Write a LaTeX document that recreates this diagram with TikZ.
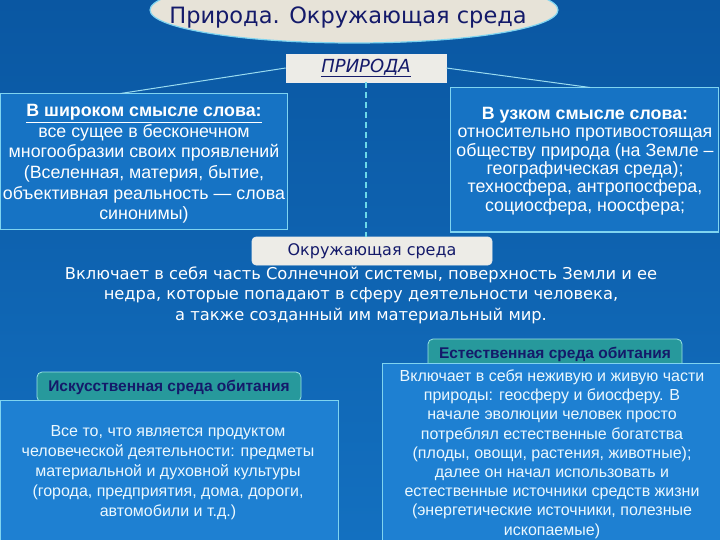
\documentclass[tikz,border=0pt]{standalone}
\usepackage{fontspec}
\setmainfont{Liberation Sans}
\newfontfamily\comicf{DejaVu Sans}
\usetikzlibrary{shapes.geometric,calc}
\definecolor{bgtop}{HTML}{0A57A2}
\definecolor{bgbot}{HTML}{1370C0}
\definecolor{boxblue}{HTML}{1673C4}
\definecolor{lowblue}{HTML}{1E80D2}
\definecolor{edgecyan}{HTML}{7FD4F0}
\definecolor{tabteal}{HTML}{27999C}
\definecolor{tabedge}{HTML}{9AE4E4}
\definecolor{navy}{HTML}{141A6A}
\definecolor{cream}{HTML}{E7E3D8}
\definecolor{paper}{HTML}{EDECE7}
\definecolor{linecyan}{HTML}{9ADCF0}
\definecolor{dashcyan}{HTML}{6CD8E8}
\tikzset{
  upbox/.style={draw=edgecyan,line width=1pt,fill=boxblue,rectangle,inner sep=0pt},
  lowbox/.style={draw=edgecyan,line width=1pt,fill=lowblue,rectangle,inner sep=0pt},
  tabbox/.style={draw=tabedge,line width=0.8pt,fill=tabteal,rectangle,rounded corners=5pt,inner sep=0pt,
    text=navy,font=\fontsize{15.5}{18}\selectfont\bfseries},
  lightbox/.style={draw=white!85!gray,line width=0.6pt,fill=paper,rectangle,inner sep=0pt,text=navy},
  bodytxt/.style={text=white,align=center,inner sep=0pt},
  conn/.style={draw=linecyan,line width=1pt},
  dashconn/.style={draw=dashcyan,line width=1.6pt,dash pattern=on 6pt off 4pt}
}
\begin{document}
\begin{tikzpicture}[x=1pt,y=-1pt]
\useasboundingbox (0,0) rectangle (720,540);
\clip (0,0) rectangle (720,540);
\shade[top color=bgtop,bottom color=bgbot] (0,0) rectangle (720,540);

% title ellipse
\node[ellipse,draw=edgecyan,line width=1.2pt,fill=cream,minimum width=408pt,minimum height=66pt,inner sep=0pt] (T) at (354,10) {};
\node[text=navy,font=\comicf\fontsize{22.5}{26}\selectfont,inner sep=0pt] (Tt) at (348,17) {Природа. Окружающая среда};

% PRIRODA box
\node[lightbox,minimum width=160pt,minimum height=28pt,font=\comicf\fontsize{18}{20}\selectfont] (P) at (366,68) {\underline{\textit{ПРИРОДА}}};

% upper boxes
\node[upbox,minimum width=287pt,minimum height=136pt] (L) at (143.5,162) {};
\node[bodytxt,font=\fontsize{17.8}{20.6}\selectfont] (Lt) at (144,164) {\underline{\textbf{В широком смысле слова:}}\\все сущее в бесконечном\\многообразии своих проявлений\\(Вселенная, материя, бытие,\\объективная реальность — слова\\синонимы)};

\node[upbox,minimum width=268pt,minimum height=144pt] (R) at (584,160) {};
\node[bodytxt,font=\fontsize{17.8}{18.3}\selectfont] (Rt) at (585,161) {\textbf{В узком смысле слова:}\\относительно противостоящая\\обществу природа (на Земле –\\географическая среда);\\техносфера, антропосфера,\\социосфера, ноосфера;};

% Okruzhayushchaya sreda box
\node[lightbox,rounded corners=4pt,minimum width=240pt,minimum height=28pt,font=\comicf\fontsize{16}{18}\selectfont] (O) at (372,251) {Окружающая среда};
\node[bodytxt,font=\comicf\fontsize{16.3}{20.5}\selectfont] (Ot) at (361,295) {Включает в себя часть Солнечной системы, поверхность Земли и ее\\недра, которые попадают в сферу деятельности человека,\\а также созданный им материальный мир.};

% connectors
\draw[conn] (P.west) -- ($(L.north west)!0.42!(L.north east)$);
\draw[conn] (P.east) -- ($(R.north)+(6,0)$);
\draw[dashconn] (P.south) -- (P.south |- O.north);

% lower left
\node[tabbox,minimum width=264pt,minimum height=30pt] (A) at (169,387) {\raisebox{2pt}{Искусственная среда обитания}};
\node[lowbox,minimum width=338pt,minimum height=145pt] (B) at (169,472.5) {};
\node[bodytxt,font=\fontsize{16}{20}\selectfont,text=white!92!cyan] (Bt) at (168,473) {Все то, что является продуктом\\человеческой деятельности: предметы\\материальной и духовной культуры\\(города, предприятия, дома, дороги,\\автомобили и т.д.)};

% lower right
\node[tabbox,minimum width=254pt,minimum height=30pt] (C) at (555,354) {\raisebox{2pt}{Естественная среда обитания}};
\node[lowbox,minimum width=340pt,minimum height=182pt] (D) at (552,454) {};
\node[bodytxt,font=\fontsize{16}{19.2}\selectfont,text=white!92!cyan] (Dt) at (552,454) {Включает в себя неживую и живую части\\природы: геосферу и биосферу. В\\начале эволюции человек просто\\потреблял естественные богатства\\(плоды, овощи, растения, животные);\\далее он начал использовать и\\естественные источники средств жизни\\(энергетические источники, полезные\\ископаемые)};
\end{tikzpicture}
\end{document}
